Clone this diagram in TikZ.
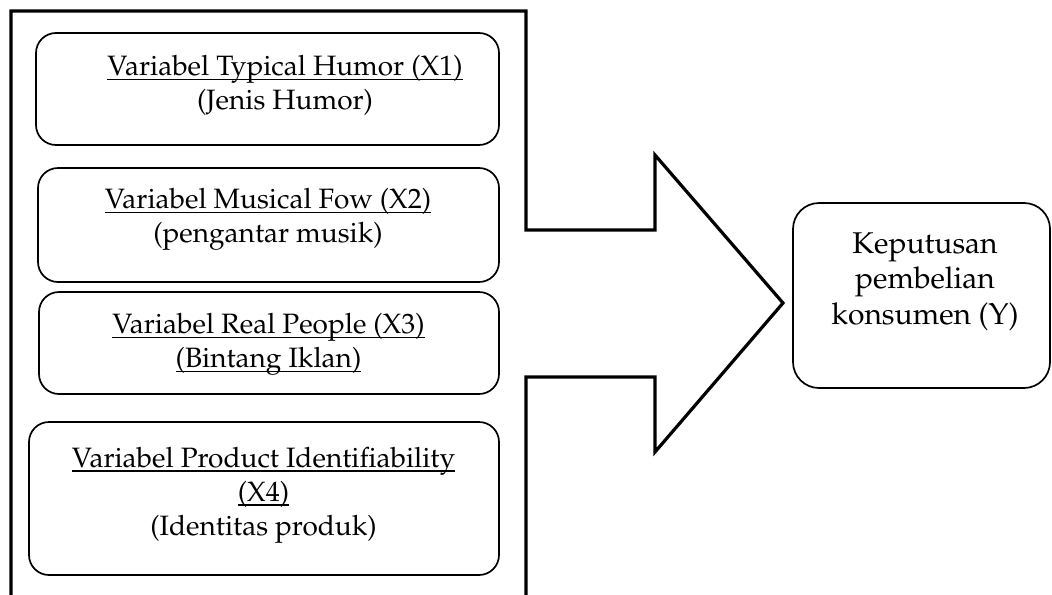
\documentclass[tikz,border=0pt]{standalone}
\usepackage[T1]{fontenc}
\renewcommand{\rmdefault}{ppl}
\newsavebox{\ulinebox}
\newcommand{\ulin}[1]{\sbox{\ulinebox}{#1}\rlap{\rule[-2.3pt]{\wd\ulinebox}{0.8pt}}\usebox{\ulinebox}}

\begin{document}
\begin{tikzpicture}[x=0.5pt,y=-0.5pt,
  varbox/.style={draw,line width=0.85pt,rounded corners=10pt,inner sep=0pt},
  vartext/.style={align=center,inner sep=0pt,font=\fontsize{14}{17}\selectfont},
  ytext/.style={align=center,inner sep=0pt,font=\fontsize{15}{17.75}\selectfont},
  bigframe/.style={line width=1.6pt,line join=miter}]
\useasboundingbox (0,0) rectangle (1052,594);
% frame round the variables, ending in the big arrow
\draw[bigframe] (11,600) -- (11,11) -- (526,11) -- (526,230) -- (655,230)
  -- (655,155) -- (783,303) -- (655,452) -- (655,377) -- (526,377) -- (526,600);
% independent variables
\node[varbox,minimum width=231.5pt,minimum height=56pt] (x1box) at (267.5,89) {};
\node[varbox,minimum width=230.5pt,minimum height=57pt] (x2box) at (268.5,225) {};
\node[varbox,minimum width=230pt,minimum height=51pt] (x3box) at (269,343) {};
\node[varbox,minimum width=235pt,minimum height=76.5pt] (x4box) at (264,498.5) {};
\node[vartext] (x1) at (285,85.5) {\ulin{Variabel Typical Humor (X1)}\\(Jenis Humor)};
\node[vartext] (x2) at (268,219.5) {\ulin{Variabel Musical Fow (X2)}\\(pengantar musik)};
\node[vartext] (x3) at (268.5,344.5) {\ulin{Variabel Real People (X3)}\\\ulin{(Bintang Iklan)}};
\node[vartext] (x4) at (263.5,495) {\ulin{Variabel Product Identifiability}\\\ulin{(X4)}\\(Identitas produk)};
% dependent variable
\node[varbox,rounded corners=13pt,minimum width=128.5pt,minimum height=92.5pt] (ybox) at (921.5,295.5) {};
\node[ytext] (y) at (925,281.5) {Keputusan\\pembelian\\konsumen (Y)};
\end{tikzpicture}
\end{document}
